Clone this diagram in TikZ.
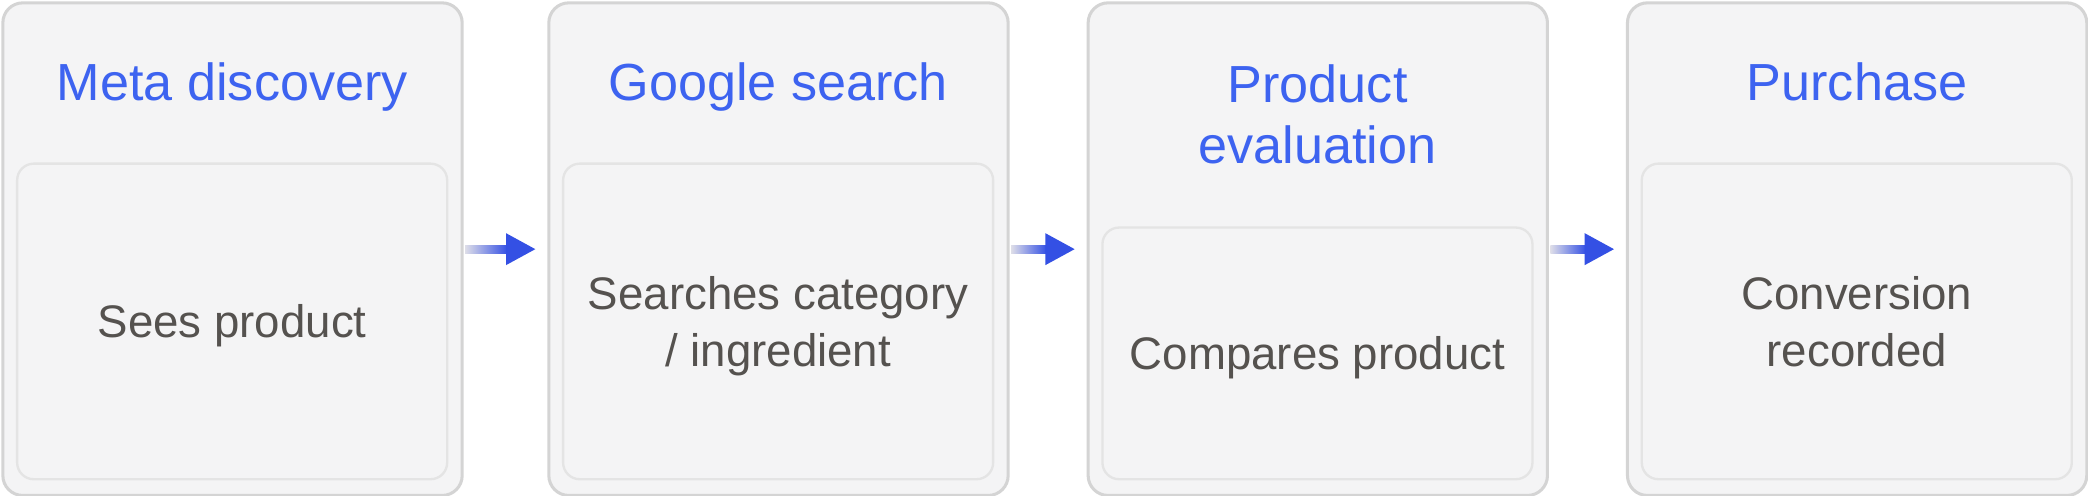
\documentclass[tikz,border=0pt]{standalone}
\usepackage{fontspec}
\setmainfont{Liberation Sans}
\usetikzlibrary{calc}
\definecolor{box-gray}{RGB}{244,244,245}
\definecolor{edge-gray}{RGB}{212,212,212}
\definecolor{inner-gray}{RGB}{228,228,228}
\definecolor{title-blue}{RGB}{61,99,240}
\definecolor{text-gray}{RGB}{85,82,79}
\definecolor{arrow-blue}{RGB}{52,80,228}
\definecolor{shaft-gray}{RGB}{222,222,232}
\tikzset{
	outer/.style={draw=edge-gray,fill=box-gray,line width=1.3pt,rounded corners=0.3cm,
		minimum width=6.9cm,minimum height=7.4cm,anchor=north west},
	inner/.style={draw=inner-gray,fill=box-gray,line width=1pt,rounded corners=0.25cm,
		minimum width=6.46cm,anchor=north west,align=center,text=text-gray,text depth=0pt,
		font=\fontsize{19.5}{24}\selectfont},
	title/.style={align=center,text=title-blue,text depth=0pt,font=\fontsize{22.3}{26}\selectfont}
}
% #1 name, #2 left x, #3 top of inner box, #4 title, #5 text
\newcommand{\Stage}[5]{
	%frame
	\node[outer] (#1) at (#2,1) {};
	%inner box
	\node[inner,minimum height={(359-#3)*0.02cm}] (#1-in) at (#2+11,#3) {#5};
	%title
	\node[title] (#1-title) at ($(#1.north)!0.5!(#1-in.north)$) {#4};
}

\begin{document}
\begin{tikzpicture}[x=0.02cm,y=-0.02cm]
	\useasboundingbox[fill=white] (0,0) rectangle (1568,372);

	\Stage{meta}{1}{122}{Meta discovery}{Sees product}
	\Stage{google}{411}{122}{Google search}{Searches category\\/ ingredient}
	\Stage{eval}{816}{170}{Product\\evaluation}{Compares product}
	\Stage{buy}{1221}{122}{Purchase}{Conversion\\recorded}

	%arrows
	\foreach \a/\b in {meta/google,google/eval,eval/buy}{
		\coordinate (\a-tip) at ($(\b.west)+(-9,0)$);
		\shade[left color=shaft-gray,right color=arrow-blue] ($(\a.east)+(1,-3)$) rectangle ($(\a-tip)+(-21,3)$);
		\fill[arrow-blue] (\a-tip) -- ++(-22,-12) -- ++(0,24) -- cycle;
	}
\end{tikzpicture}
\end{document}
